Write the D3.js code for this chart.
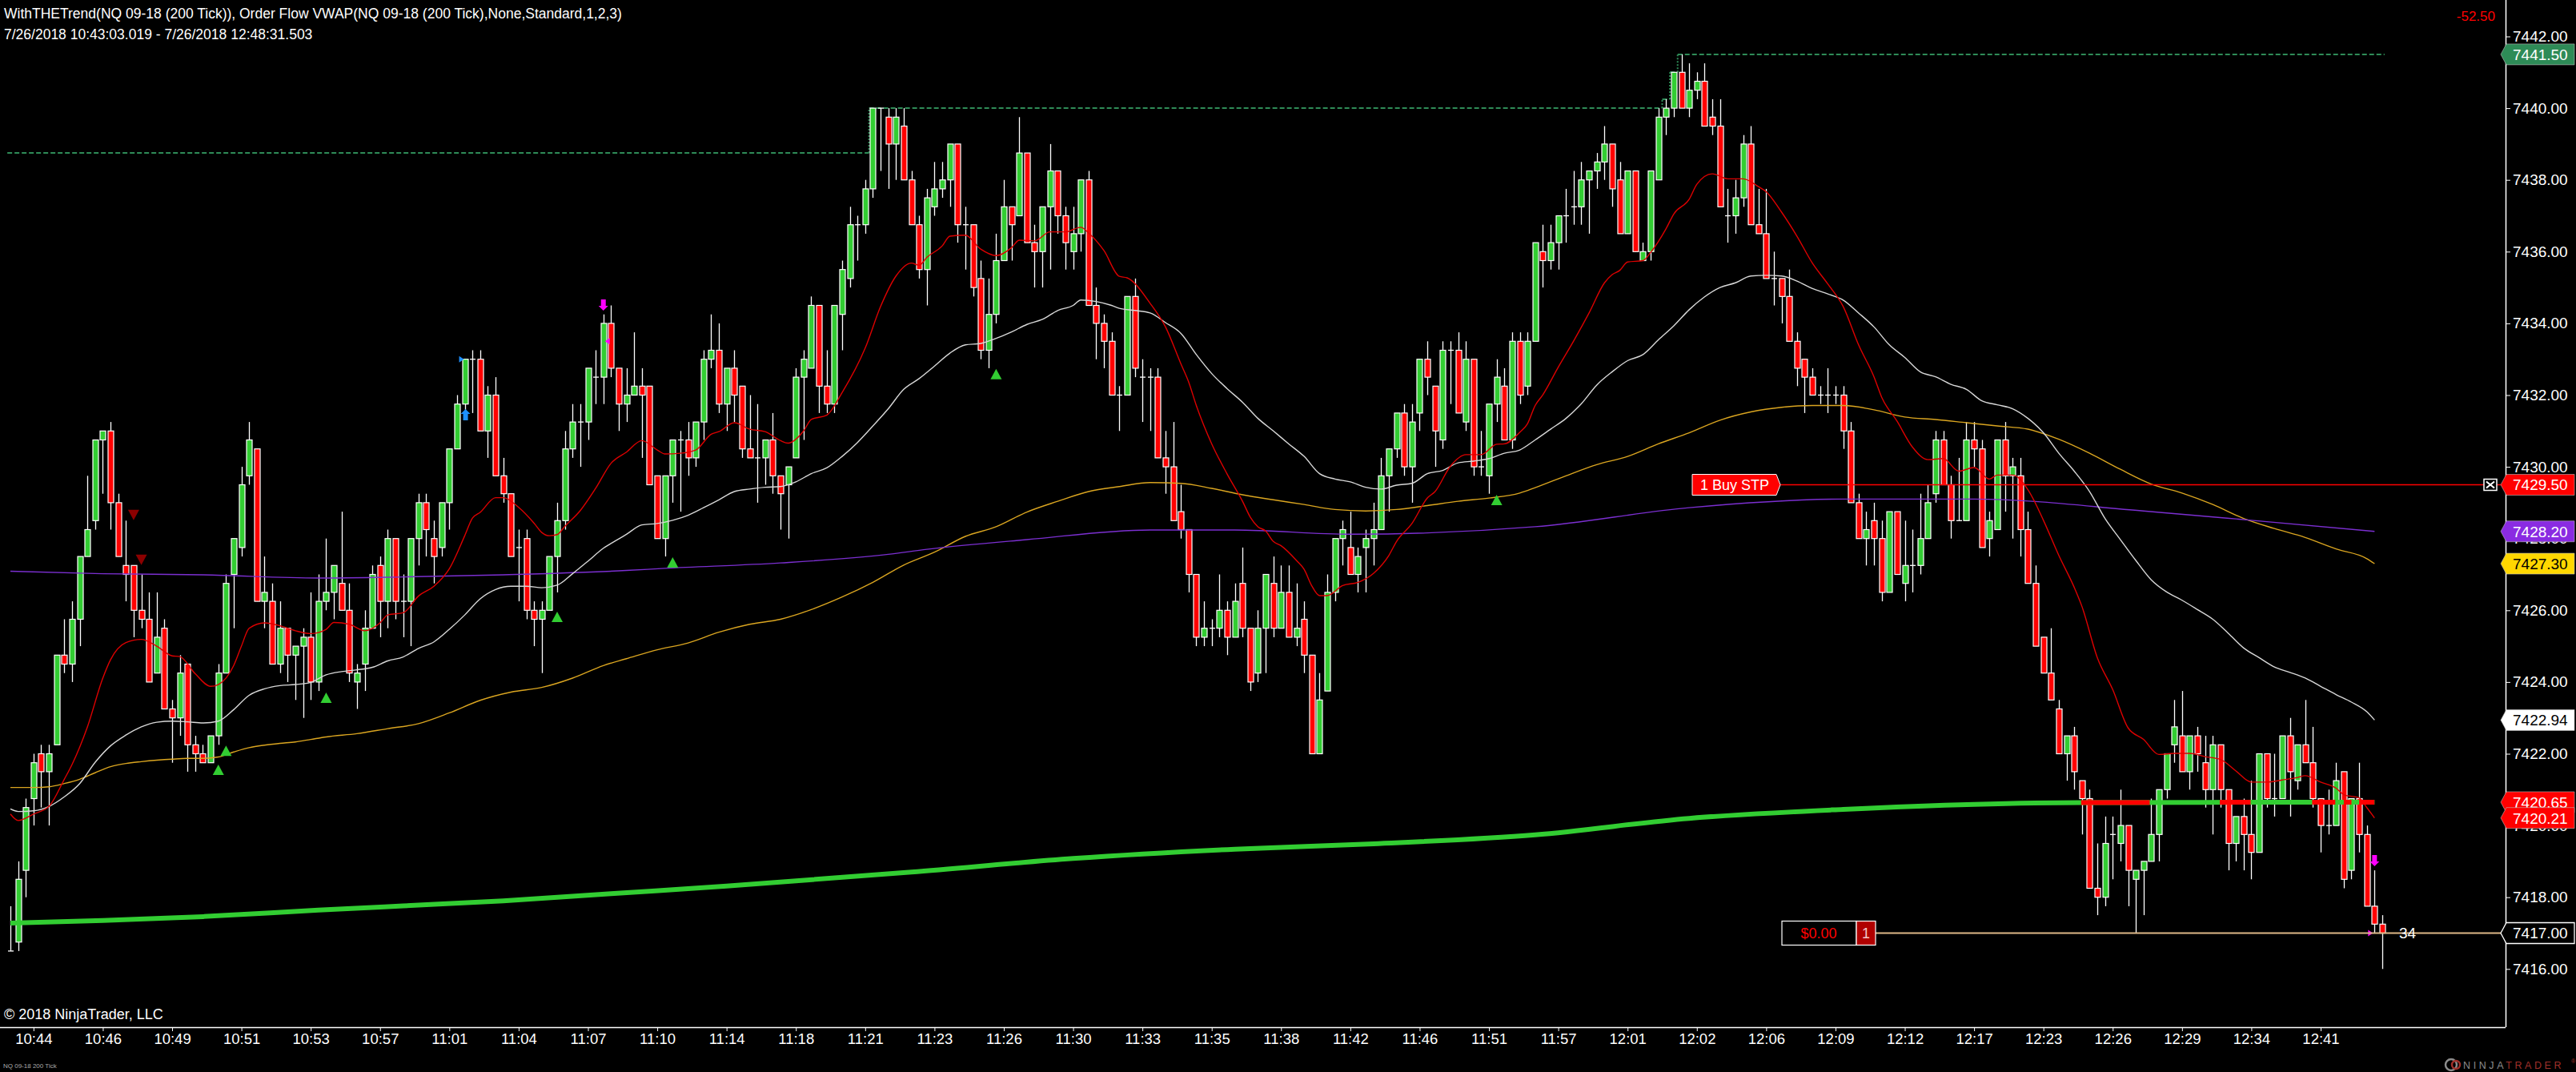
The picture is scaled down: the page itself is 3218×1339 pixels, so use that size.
<!DOCTYPE html>
<html>
<head>
<meta charset="utf-8">
<script src="https://cdn.jsdelivr.net/npm/d3@7"></script>
<style>
html, body { margin: 0; padding: 0; background: #000; overflow: hidden; }
svg { display: block; font-family: "Liberation Sans", Arial, sans-serif; }
</style>
</head>
<body>
<svg id="chart"></svg>
<script>
var width = 3218;
var height = 1339;
var plotRight = 3130;
var plotBottom = 1283;

// NQ 09-18, 200 tick bars: [open, high, low, close]
var candles = [
[7416.5,7417.75,7416.5,7416.5],[7416.75,7419,7416.5,7418.5],[7418.75,7420.75,7418,7420.5],[7420.75,7422,7420,7421.75],
[7422,7422.25,7420.5,7421.5],[7421.5,7422.25,7420,7422],[7422.25,7424.75,7422.25,7424.75],[7424.75,7425.75,7424.25,7424.5],
[7424.5,7426.25,7424,7425.75],[7425.75,7427.5,7425,7427.5],[7427.5,7429.75,7427.5,7428.25],[7428.5,7430.75,7428.25,7430.75],
[7430.75,7431,7429.25,7431],[7431,7431.25,7428.25,7429],[7429,7429.25,7427.5,7427.5],[7427.25,7428.5,7426.25,7427],
[7427.25,7427.25,7425.25,7426],[7426,7427,7425.5,7425.75],[7425.75,7426.5,7424,7424],[7424.25,7426.5,7424.25,7425.25],
[7425.5,7425.75,7423.25,7423.25],[7423.25,7423.5,7421.75,7423],[7423,7424.75,7422.5,7424.25],[7424.5,7424.5,7421.5,7422.25],
[7422.25,7422.5,7421.5,7422],[7422,7422.25,7421.75,7421.75],[7421.75,7422.5,7421.75,7422.5],[7422.5,7424.5,7422.25,7424.25],
[7424.25,7427,7424.25,7426.75],[7427,7428,7425.5,7428],[7427.75,7430,7427.5,7429.5],[7429.75,7431.25,7429.5,7430.75],
[7430.5,7430.5,7426.25,7426.25],[7426.25,7427.5,7425.5,7426.5],[7426.25,7426.75,7424.5,7424.5],[7424.5,7426.25,7424.25,7425.5],
[7425.5,7425.5,7424,7424.75],[7424.75,7425,7423.5,7425],[7425,7425.5,7423,7425.25],[7425.25,7426.5,7423.5,7424],
[7424,7427,7423.75,7426.25],[7426.25,7428,7426,7426.5],[7426.5,7427.25,7425.75,7427.25],[7426.75,7428.75,7426,7426],
[7426,7426.75,7424,7424.25],[7424,7424.5,7423.25,7424.25],[7424.5,7426,7423.75,7425.5],[7425.5,7427.25,7425.5,7427],
[7427.25,7427.5,7425.25,7426.25],[7426.25,7428.25,7425.5,7428],[7428,7428,7425.75,7426.25],[7426.25,7427,7425.25,7426.25],
[7426.25,7428,7425,7428],[7428,7429.25,7427.25,7429],[7429,7429.25,7427.5,7428.25],[7428,7428.5,7426.75,7427.5],
[7427.75,7429,7427.5,7429],[7429,7430.5,7428.25,7430.5],[7430.5,7432,7430.5,7431.75],[7431.75,7433,7431.5,7433],
[7433,7433.25,7431.5,7433],[7433,7433.25,7431,7431],[7431,7432.25,7430.25,7432],[7432,7432.5,7429.75,7429.75],
[7429.75,7430.25,7429,7429.25],[7429.25,7429.25,7427.5,7427.5],[7427.75,7428.25,7426.25,7427.75],[7428,7428.25,7425.75,7426],
[7426,7426.25,7425,7425.75],[7425.75,7426.25,7424.25,7426],[7426,7427.5,7426,7427.5],[7427.5,7429,7426.5,7428.5],
[7428.5,7431,7428.25,7430.5],[7430.5,7431.75,7430.25,7431.25],[7431.25,7431.75,7430,7431.25],[7431.25,7432.75,7430.75,7432.75],
[7432.5,7433.25,7431.75,7432.5],[7432.5,7434.25,7431.75,7434],[7434,7434.5,7432.5,7432.75],[7432.75,7432.75,7431,7431.75],
[7431.75,7432.75,7431.25,7432],[7432,7433.75,7432,7432.25],[7432.25,7432.75,7430.25,7432],[7432.25,7432.25,7429.5,7429.5],
[7429.75,7429.75,7428,7428],[7428,7429.75,7427.5,7429.75],[7429.75,7430.75,7429,7430.75],[7430.75,7431,7428.75,7430.75],
[7430.75,7431.25,7429.75,7430.25],[7430.25,7431.25,7430,7431.25],[7431.25,7433.25,7430.75,7433],[7433,7434.25,7432.75,7433.25],
[7433.25,7434,7431.5,7431.75],[7431.75,7432.75,7431,7432.75],[7432.75,7433.25,7431.25,7432],[7432.25,7432.25,7430.25,7430.5],
[7430.5,7432,7430.25,7430.25],[7430.25,7431.75,7429,7430.25],[7430.25,7430.75,7429.5,7430.75],[7430.75,7431.5,7429.25,7429.75],
[7429.75,7429.75,7428.25,7429.25],[7429.5,7430,7428,7430],[7430.25,7432.75,7430.25,7432.5],[7432.5,7433.25,7430.75,7433],
[7432.75,7434.75,7432.75,7434.5],[7434.5,7434.5,7431.5,7432.25],[7432.25,7433.25,7431.5,7431.75],[7431.75,7434.5,7431.5,7434.5],
[7434.25,7435.75,7433.25,7435.5],[7435.25,7437.25,7435,7436.75],[7436.75,7437,7435.75,7436.75],[7436.75,7438,7436.5,7437.75],
[7437.75,7440,7437.5,7440],[7440,7440,7438.25,7440],[7439.75,7440,7437.75,7439],[7439,7440,7438,7439.75],
[7439.5,7440,7438,7438],[7438,7438.25,7436.75,7436.75],[7436.75,7437,7435.25,7435.5],[7435.5,7437.75,7434.5,7437.5],
[7437.25,7438.5,7437,7437.75],[7437.75,7438.5,7437.5,7438],[7438,7439,7437.25,7439],[7439,7439,7436.25,7436.75],
[7436.75,7437.25,7435.5,7436.75],[7436.75,7436.75,7434.75,7435],[7435.25,7435.75,7433,7433.25],[7433.25,7435.25,7432.75,7434.25],
[7434.25,7436.5,7434,7435.75],[7435.75,7438,7435.75,7437.25],[7437.25,7437.25,7435.75,7436.75],[7437,7439.75,7437,7438.75],
[7438.75,7438.75,7436.25,7436.25],[7436.25,7436.75,7435,7436],[7436,7437.25,7435,7437.25],[7437.25,7439,7435.5,7438.25],
[7438.25,7438.25,7436.5,7437],[7437,7437.25,7435.5,7436.25],[7436,7437.25,7435.5,7436.5],[7436.5,7438,7436,7438],
[7438,7438.25,7434.5,7434.5],[7434.5,7435,7433,7434],[7434,7434.25,7432.75,7433.5],[7433.5,7433.75,7432,7432],
[7432,7432.25,7431,7432],[7432,7434.75,7432,7434.75],[7434.75,7435.25,7432.5,7432.75],[7432.5,7433,7431.25,7432.5],
[7432.5,7432.75,7431,7432.5],[7432.5,7432.75,7430.25,7430.25],[7430.25,7431,7429.25,7430],[7430,7431.25,7428.5,7428.5],
[7428.75,7429.5,7428,7428.25],[7428.25,7428.25,7426.5,7427],[7427,7427,7425,7425.25],[7425.25,7426.25,7425,7425.5],
[7425.5,7425.75,7425,7425.5],[7425.5,7427,7425.25,7426],[7426,7426.25,7424.75,7425.25],[7425.25,7426.75,7425.25,7426.25],
[7426.75,7427.75,7425.25,7425.5],[7425.5,7425.5,7423.75,7424],[7424.25,7426,7424,7425.5],[7425.5,7427,7424.25,7427],
[7426.75,7427.5,7425.25,7425.5],[7425.5,7427.25,7425.5,7426.5],[7426.5,7427.25,7425.25,7425.25],[7425.25,7426.75,7425,7425.5],
[7425.75,7426.25,7424.25,7424.75],[7424.75,7424.75,7422,7422],[7422,7424.25,7422,7423.5],[7423.75,7427,7423.75,7426.5],
[7426.5,7428,7426.25,7428],[7428,7428.5,7427.25,7428.25],[7427.75,7428.75,7427,7427],[7427,7427.75,7426.5,7427.5],
[7427.75,7428.25,7426.5,7428],[7428,7429,7427.25,7428.25],[7428.25,7430.25,7428.25,7429.75],[7429.75,7430.5,7428.75,7430.5],
[7430.5,7431.5,7430.25,7431.5],[7431.5,7431.75,7429.75,7430],[7430,7431.75,7429,7431.25],[7431.5,7433,7431,7433],
[7433,7433.5,7432,7432.5],[7432.25,7432.25,7430,7431],[7430.75,7433.5,7430.5,7433.25],[7433.25,7433.5,7431.75,7433.25],
[7433.25,7433.75,7431.5,7431.5],[7431.25,7433.5,7431,7433],[7433,7433,7429.75,7430],[7430,7431,7429.75,7430],
[7429.75,7431.75,7429.25,7431.75],[7431.75,7433,7431.25,7432.5],[7432.25,7432.75,7430.75,7430.75],[7430.75,7433.75,7430.5,7433.5],
[7433.5,7433.75,7431.75,7432],[7432.25,7433.75,7432,7433.5],[7433.5,7436.25,7433.5,7436.25],[7436,7436.75,7435,7435.75],
[7435.75,7436.75,7435.5,7436.25],[7436.25,7437,7435.5,7437],[7437,7437.75,7436.25,7437],[7437.25,7438.25,7436.75,7437.25],
[7437.25,7438.5,7436.75,7438],[7438,7438.25,7436.5,7438.25],[7438.25,7438.75,7437.75,7438.5],[7438.5,7439.5,7438,7439],
[7439,7439,7437.25,7437.75],[7438,7438.5,7436.5,7436.5],[7436.5,7438.25,7436.5,7438.25],[7438.25,7438.25,7436,7436],
[7435.75,7436.25,7435.75,7436],[7436,7438.25,7435.75,7438.25],[7438,7440,7438,7439.75],[7439.75,7440.25,7439.25,7440],
[7440,7441,7439.75,7441],[7441,7441.5,7440,7440],[7440,7441.25,7439.75,7440.5],[7440.5,7441,7440.25,7440.75],
[7440.75,7441.25,7439.5,7439.5],[7439.75,7440.25,7439.25,7439.5],[7439.5,7440.25,7437.25,7437.25],[7437,7437.75,7436.25,7437],
[7437,7438,7436.5,7437.5],[7437.5,7439.25,7437.25,7439],[7439,7439.5,7436.75,7436.75],[7436.75,7437.75,7436.5,7436.5],
[7436.5,7437.75,7435.25,7435.25],[7435.25,7436,7434.5,7435.25],[7435.25,7435.25,7434,7434.75],[7434.75,7435.5,7433.5,7433.5],
[7433.5,7433.75,7432.25,7432.75],[7433,7433,7431.5,7432.5],[7432.5,7432.75,7432,7432],[7432,7432.25,7431.75,7432],
[7432,7432.75,7431.5,7432],[7432,7432.25,7431.75,7432],[7432,7432.25,7430.5,7431],[7431,7431.25,7429,7429],
[7429,7429.25,7428,7428],[7428,7428.75,7427.25,7428.25],[7428.5,7429,7427.25,7428],[7428,7428.5,7426.25,7426.5],
[7426.5,7428.75,7426.5,7428.75],[7428.75,7428.75,7427,7427],[7426.75,7428.5,7426.25,7427.25],[7427.25,7428.25,7426.5,7427.25],
[7427.25,7429.25,7427,7428],[7428,7429.5,7428,7429],[7429.25,7431,7429,7430.75],[7430.75,7431,7429.5,7429.5],
[7429.5,7429.75,7428,7428.5],[7428.5,7430.25,7428.5,7428.5],[7428.5,7431.25,7428.5,7430.75],[7430.75,7431.25,7430,7430.5],
[7430.5,7430.75,7427.75,7427.75],[7428,7428.75,7427.5,7428.5],[7428.25,7430.75,7428.25,7430.75],[7430.75,7431.25,7428.75,7429.75],
[7429.75,7430.25,7428,7430],[7429.75,7430.25,7427.5,7428.25],[7428.25,7428.75,7426.75,7426.75],[7426.75,7427.25,7425,7425],
[7425.25,7425.25,7424.25,7424.25],[7424.25,7425.5,7423.5,7423.5],[7423.25,7423.5,7422,7422],[7422,7422.5,7421.25,7422.5],
[7422.5,7422.75,7421,7421.5],[7421.25,7421.25,7419.75,7420.75],[7420.75,7421,7418.25,7418.25],[7418.25,7419.5,7417.5,7418],
[7418,7420.25,7417.75,7419.5],[7419.75,7420.25,7418.5,7419.75],[7419.5,7421,7419,7420],[7420,7420,7417.75,7418.75],
[7418.5,7418.75,7417,7418.75],[7418.75,7419,7417.5,7419],[7419,7420.75,7419,7419.75],[7419.75,7421,7419,7421],
[7421,7422,7420.75,7422],[7422.25,7423.5,7421.75,7422.75],[7422.5,7423.75,7421.5,7421.5],[7421.5,7422.5,7421,7422.5],
[7422.5,7422.75,7421.5,7422],[7421.75,7422.5,7420.5,7421],[7421,7422.5,7419.75,7422.25],[7422.25,7422.25,7420.5,7421],
[7421,7421,7418.75,7419.5],[7419.5,7420.25,7419,7420.25],[7420.25,7420.75,7418.75,7419.75],[7419.75,7421.25,7418.5,7419.25],
[7419.25,7422,7419.25,7422],[7422,7422,7420.5,7420.75],[7420.75,7422,7420.25,7420.75],[7420.75,7422.5,7420.75,7422.5],
[7422.5,7423,7420.25,7421.5],[7421.25,7422.25,7421,7422.25],[7422.25,7423.5,7421.75,7421.75],[7421.75,7422.75,7420.5,7420.75],
[7420.75,7420.75,7419.25,7420],[7420,7421,7419.75,7420],[7420,7421.75,7420,7421.25],[7421.5,7421.5,7418.25,7418.5],
[7418.75,7420.75,7418.5,7420.75],[7420.75,7421.75,7419.25,7419.75],[7419.75,7420,7417.75,7417.75],[7417.75,7418.75,7417,7417.25],
[7417.25,7417.5,7416,7417]
];

var timeLabels = ["10:44","10:46","10:49","10:51","10:53","10:57","11:01","11:04","11:07","11:10","11:14","11:18",
  "11:21","11:23","11:26","11:30","11:33","11:35","11:38","11:42","11:46","11:51","11:57","12:01","12:02","12:06",
  "12:09","12:12","12:17","12:23","12:26","12:29","12:34","12:41"];
var priceTicks = [7416,7418,7420,7422,7424,7426,7428,7430,7432,7434,7436,7438,7440,7442];

// indicator plots, [bar, value]
var fastAvg = [[0,7420.32],[1,7420.14],[3,7420.32],[5,7420.53],[7,7421.29],[8,7421.7],[10,7422.75],[12,7424.11],[13,7424.62],
  [15,7425.1],[17,7425.19],[19,7425.0],[21,7424.73],[22,7424.71],[24,7424.23],[26,7423.88],[27,7423.93],[29,7424.46],[30,7425.0],
  [31,7425.5],[33,7425.65],[35,7425.57],[37,7425.43],[39,7425.35],[41,7425.47],[42,7425.66],[44,7425.61],[46,7425.43],
  [48,7425.65],[49,7425.87],[51,7425.93],[53,7426.4],[55,7426.67],[57,7427.16],[59,7428.08],[60,7428.57],[61,7428.73],
  [63,7429.14],[64,7429.14],[66,7428.87],[68,7428.43],[69,7428.17],[70,7428.08],[71,7428.11],[72,7428.34],[74,7428.78],
  [76,7429.4],[78,7430.1],[80,7430.41],[82,7430.73],[84,7430.47],[85,7430.36],[87,7430.38],[89,7430.47],[91,7430.91],
  [92,7430.98],[94,7431.23],[96,7431.05],[98,7430.98],[100,7430.73],[101,7430.66],[103,7431.0],[104,7431.32],[106,7431.44],
  [108,7432.07],[111,7433.31],[113,7434.47],[115,7435.32],[117,7435.68],[118,7435.62],[119,7435.84],[121,7436.16],
  [122,7436.43],[124,7436.46],[126,7436.07],[128,7435.89],[130,7436.11],[131,7436.32],[133,7436.3],[135,7436.55],
  [137,7436.55],[139,7436.68],[140,7436.52],[142,7436.03],[144,7435.31],[145,7435.27],[148,7434.56],[150,7433.9],
  [152,7432.87],[153,7432.37],[154,7431.71],[156,7430.64],[158,7429.8],[160,7429.04],[161,7428.6],[162,7428.33],
  [163,7428.21],[164,7427.92],[165,7427.8],[167,7427.39],[168,7427.14],[169,7426.68],[170,7426.41],[171,7426.41],
  [173,7426.69],[175,7426.78],[177,7427.03],[179,7427.53],[180,7427.92],[182,7428.42],[184,7429.13],[185,7429.31],
  [187,7430.02],[189,7430.34],[191,7430.34],[193,7430.63],[194,7430.64],[196,7430.96],[197,7431.2],[198,7431.71],
  [199,7432.01],[201,7432.78],[203,7433.51],[205,7434.29],[207,7435.13],[208,7435.36],[209,7435.48],[210,7435.71],
  [212,7435.75],[213,7435.98],[215,7436.64],[216,7437.05],[218,7437.46],[219,7437.88],[221,7438.17],[223,7438.03],
  [225,7438.03],[227,7437.81],[228,7437.67],[230,7437.1],[232,7436.43],[234,7435.68],[236,7435.1],[238,7434.47],
  [240,7433.4],[242,7432.51],[243,7431.94],[245,7431.27],[247,7430.55],[249,7430.2],[251,7430.23],[253,7429.88],
  [255,7429.98],[257,7429.66],[258,7429.77],[260,7429.77],[262,7429.36],[264,7428.51],[266,7427.53],[268,7426.64],
  [269,7426.11],[271,7424.68],[273,7423.79],[275,7422.72],[277,7422.4],[279,7421.98],[281,7422.01],[283,7422.01],
  [285,7421.92],[287,7421.84],[289,7421.52],[291,7421.21],[293,7421.21],[295,7421.27],[297,7421.34],[298,7421.39],
  [300,7421.21],[302,7421.04],[303,7420.86],[305,7420.77],[306,7420.5],[307,7420.21]];

var slowAvg = [[0,7420.46],[1,7420.39],[3,7420.41],[5,7420.53],[7,7420.8],[9,7421.17],[11,7421.76],[13,7422.22],[15,7422.52],
  [17,7422.75],[19,7422.88],[21,7422.91],[23,7422.89],[25,7422.86],[27,7422.91],[29,7423.23],[31,7423.63],[33,7423.81],
  [35,7423.9],[37,7423.93],[39,7423.99],[41,7424.2],[43,7424.29],[45,7424.34],[47,7424.41],[49,7424.59],[51,7424.7],
  [53,7424.94],[55,7425.12],[57,7425.47],[59,7425.87],[61,7426.32],[63,7426.58],[65,7426.67],[67,7426.67],[69,7426.63],
  [71,7426.7],[73,7427.02],[75,7427.37],[77,7427.73],[79,7427.99],[80,7428.12],[82,7428.38],[84,7428.42],[86,7428.51],
  [88,7428.65],[90,7428.86],[92,7429.08],[94,7429.31],[96,7429.38],[98,7429.43],[100,7429.45],[102,7429.58],[104,7429.81],
  [106,7429.97],[108,7430.29],[110,7430.68],[112,7431.14],[114,7431.62],[116,7432.16],[118,7432.46],[120,7432.81],
  [122,7433.17],[124,7433.4],[126,7433.44],[128,7433.58],[130,7433.76],[132,7433.97],[134,7434.11],[136,7434.36],
  [138,7434.5],[139,7434.65],[141,7434.61],[143,7434.5],[144,7434.42],[146,7434.36],[148,7434.29],[150,7434.02],
  [152,7433.72],[154,7433.13],[156,7432.6],[158,7432.18],[160,7431.8],[162,7431.35],[164,7431.0],[166,7430.64],
  [168,7430.29],[170,7429.81],[172,7429.66],[174,7429.58],[176,7429.43],[178,7429.38],[180,7429.49],[182,7429.54],
  [184,7429.81],[186,7429.9],[188,7430.11],[190,7430.16],[192,7430.23],[194,7430.38],[196,7430.47],[198,7430.75],
  [200,7431.05],[202,7431.35],[204,7431.76],[206,7432.28],[208,7432.65],[210,7432.96],[212,7433.13],[214,7433.54],
  [216,7433.93],[218,7434.38],[220,7434.74],[222,7435.0],[224,7435.13],[226,7435.32],[228,7435.34],[230,7435.32],
  [232,7435.18],[234,7434.97],[236,7434.82],[238,7434.65],[240,7434.29],[242,7433.9],[244,7433.4],[246,7433.05],
  [248,7432.65],[250,7432.51],[252,7432.3],[254,7432.16],[256,7431.84],[258,7431.73],[260,7431.62],[262,7431.35],
  [264,7430.95],[266,7430.38],[268,7429.88],[270,7429.31],[272,7428.56],[274,7427.97],[276,7427.39],[278,7426.85],
  [280,7426.51],[282,7426.28],[284,7426.02],[286,7425.75],[288,7425.36],[290,7424.95],[292,7424.68],[294,7424.42],
  [296,7424.27],[298,7424.11],[300,7423.88],[302,7423.65],[304,7423.44],[306,7423.17],[307,7422.94]];

var goldAvg = [[0,7421.06],[3,7421.06],[5,7421.08],[7,7421.17],[9,7421.29],[11,7421.47],[13,7421.64],[15,7421.73],[17,7421.78],
  [19,7421.82],[21,7421.85],[23,7421.87],[25,7421.87],[27,7421.91],[29,7422.05],[31,7422.17],[33,7422.24],[35,7422.29],
  [37,7422.33],[39,7422.4],[41,7422.47],[45,7422.56],[49,7422.7],[53,7422.84],[57,7423.14],[61,7423.49],[65,7423.72],
  [69,7423.85],[73,7424.11],[77,7424.46],[80,7424.65],[84,7424.9],[88,7425.09],[92,7425.39],[96,7425.61],[100,7425.75],
  [104,7426.02],[108,7426.37],[112,7426.78],[116,7427.26],[120,7427.62],[124,7428.06],[128,7428.33],[132,7428.74],
  [136,7429.04],[140,7429.31],[144,7429.45],[148,7429.56],[152,7429.54],[156,7429.4],[160,7429.22],[164,7429.08],
  [168,7428.95],[172,7428.81],[176,7428.77],[180,7428.81],[184,7428.92],[188,7429.04],[192,7429.13],[196,7429.27],
  [198,7429.42],[202,7429.75],[206,7430.06],[210,7430.29],[214,7430.64],[218,7430.95],[222,7431.3],[226,7431.53],
  [230,7431.66],[234,7431.71],[238,7431.71],[242,7431.59],[246,7431.39],[250,7431.32],[254,7431.23],[258,7431.14],
  [262,7431.05],[266,7430.77],[270,7430.38],[274,7429.93],[278,7429.52],[282,7429.27],[286,7428.95],[290,7428.56],
  [294,7428.28],[298,7428.03],[302,7427.71],[306,7427.44],[307,7427.3]];

var purpleAvg = [[0,7427.09],[12,7427.02],[25,7426.99],[40,7426.9],[51,7426.93],[64,7426.99],[80,7427.11],[85,7427.17],
  [100,7427.32],[114,7427.56],[119,7427.7],[132,7427.97],[148,7428.24],[159,7428.24],[174,7428.12],[198,7428.33],
  [218,7428.86],[238,7429.1],[255,7429.1],[277,7428.77],[291,7428.51],[307,7428.2]];

var vwap = [[0,7417.28],[12,7417.35],[25,7417.46],[40,7417.64],[51,7417.76],[64,7417.9],[78,7418.1],[93,7418.31],
  [117,7418.7],[138,7419.08],[159,7419.34],[177,7419.49],[198,7419.74],[218,7420.2],[238,7420.45],[255,7420.59],
  [269,7420.64],[307,7420.65]];
// bar ranges where the VWAP plot turns red
var vwapRed = [[268.9,277.8],[286.9,290.9],[298.9,301.9],[303,304],[305,307]];

var startHigh = 7438.75;
var upSignals = [[27,7421.7],[28,7422.23],[41,7423.71],[71,7425.96],[86,7427.48],[128,7432.73],[193,7429.22]];
var downSignals = [[16,7428.8],[17,7427.55]];

// price markers on the axis: value, fill, text colour
var markers = [
  [7441.50, "#2e8b57", "#ffffff"],
  [7429.50, "#ff0000", "#ffffff"],
  [7428.20, "#8a2be2", "#ffffff"],
  [7427.30, "#ffd700", "#000000"],
  [7422.94, "#ffffff", "#000000"],
  [7420.65, "#ff0000", "#ffffff"],
  [7420.21, "#ff0000", "#ffffff"],
  [7417.00, "#000000", "#ffffff"]
];
var stopPrice = 7429.50;
var positionPrice = 7417.00;

var x = d3.scaleLinear().domain([0, 308]).range([13, 13 + 308 * 9.62]);
var y = d3.scaleLinear().domain([7416, 7442]).range([1210.3, 45.5]);

var svg = d3.select("#chart").attr("width", width).attr("height", height);
svg.append("rect").attr("width", width).attr("height", height).attr("fill", "#000");

// axes
var xAxis = d3.axisBottom(x)
  .tickValues(timeLabels.map(function(d, i) { return 3 + 9 * i; }))
  .tickFormat(function(d, i) { return timeLabels[i]; })
  .tickSize(5)
  .tickSizeOuter(0);
var gx = svg.append("g").attr("transform", "translate(0," + plotBottom + ")").call(xAxis);
gx.select(".domain").remove();
gx.selectAll("line").attr("stroke", "#fff");
gx.selectAll("text").attr("fill", "#fff").style("font-size", "18.5px").attr("font-family", "Liberation Sans, Arial");

var yAxis = d3.axisRight(y)
  .tickValues(priceTicks)
  .tickFormat(d3.format(".2f"))
  .tickSize(6)
  .tickPadding(3);
var gy = svg.append("g").attr("transform", "translate(" + plotRight + ",0)").call(yAxis);
gy.select(".domain").remove();
gy.selectAll("line").attr("stroke", "#fff");
gy.selectAll("text").attr("fill", "#fff").style("font-size", "19px").attr("font-family", "Liberation Sans, Arial");

svg.append("line").attr("x1", 0).attr("x2", plotRight).attr("y1", plotBottom + 0.5).attr("y2", plotBottom + 0.5)
  .attr("stroke", "#fff").attr("stroke-width", 1.5);
svg.append("line").attr("x1", plotRight + 0.5).attr("x2", plotRight + 0.5).attr("y1", 0).attr("y2", plotBottom)
  .attr("stroke", "#fff").attr("stroke-width", 1.5);

var plot = svg.append("g");

// running session high (dashed) built from the bar highs
var level = startHigh, steps = [[-0.4, level]];
candles.forEach(function(c, i) {
  if (c[1] > level) { steps.push([i - 0.5, level]); level = c[1]; steps.push([i - 0.5, level]); }
});
steps.push([308.3, level]);
for (var s = 0; s < steps.length - 1; s++) {
  var a = steps[s], b = steps[s + 1];
  plot.append("line")
    .attr("x1", x(a[0])).attr("x2", x(b[0])).attr("y1", y(a[1])).attr("y2", y(b[1]))
    .attr("stroke", "#2e8b57").attr("stroke-width", 2)
    .attr("stroke-dasharray", a[1] === b[1] ? "6,3" : "2,2");
}

// candles
var bodyW = 7;
var bars = plot.selectAll("g.bar").data(candles).enter().append("g").attr("class", "bar");
bars.append("line")
  .attr("x1", function(d, i) { return Math.round(x(i)) + 0.5; })
  .attr("x2", function(d, i) { return Math.round(x(i)) + 0.5; })
  .attr("y1", function(d) { return y(d[1]); })
  .attr("y2", function(d) { return y(d[2]); })
  .attr("stroke", "#fff").attr("stroke-width", 1.3);
bars.filter(function(d) { return d[0] !== d[3]; }).append("rect")
  .attr("x", function(d) { return Math.round(x(candles.indexOf(d))) + 0.5 - bodyW / 2; })
  .attr("width", bodyW)
  .attr("y", function(d) { return y(Math.max(d[0], d[3])); })
  .attr("height", function(d) { return Math.abs(y(d[0]) - y(d[3])); })
  .attr("fill", function(d) { return d[3] > d[0] ? "#32cd32" : "#ff0000"; })
  .attr("stroke", "#fff").attr("stroke-width", 1.2);
bars.filter(function(d) { return d[0] === d[3]; }).append("line")
  .attr("x1", function(d) { return Math.round(x(candles.indexOf(d))) + 0.5 - bodyW / 2; })
  .attr("x2", function(d) { return Math.round(x(candles.indexOf(d))) + 0.5 + bodyW / 2; })
  .attr("y1", function(d) { return y(d[0]); })
  .attr("y2", function(d) { return y(d[0]); })
  .attr("stroke", "#fff").attr("stroke-width", 1.3);

// indicator lines
var line = d3.line().x(function(d) { return x(d[0]); }).y(function(d) { return y(d[1]); }).curve(d3.curveMonotoneX);
plot.append("path").datum(goldAvg).attr("d", line).attr("fill", "none").attr("stroke", "#daa520").attr("stroke-width", 1.4);
plot.append("path").datum(purpleAvg).attr("d", line).attr("fill", "none").attr("stroke", "#7b2fd0").attr("stroke-width", 1.4);
plot.append("path").datum(slowAvg).attr("d", line).attr("fill", "none").attr("stroke", "#d8d8d8").attr("stroke-width", 1.4);
plot.append("path").datum(fastAvg).attr("d", line).attr("fill", "none").attr("stroke", "#dd0000").attr("stroke-width", 1.4);

plot.append("path").datum(vwap).attr("d", line).attr("fill", "none").attr("stroke", "#32cd32").attr("stroke-width", 6);
var clip = svg.append("defs").append("clipPath").attr("id", "vwapRedClip");
vwapRed.forEach(function(r) {
  clip.append("rect").attr("x", x(r[0])).attr("width", x(r[1]) - x(r[0])).attr("y", 0).attr("height", height);
});
plot.append("path").datum(vwap).attr("d", line).attr("fill", "none").attr("stroke", "#ff0000").attr("stroke-width", 6)
  .attr("clip-path", "url(#vwapRedClip)");

// signals
var tri = 7;
plot.selectAll("path.up").data(upSignals).enter().append("path")
  .attr("d", function(d) { var cx = x(d[0]), cy = y(d[1]); return "M" + cx + "," + cy + "L" + (cx + tri) + "," + (cy + 13) + "L" + (cx - tri) + "," + (cy + 13) + "Z"; })
  .attr("fill", "#32cd32");
plot.selectAll("path.down").data(downSignals).enter().append("path")
  .attr("d", function(d) { var cx = x(d[0]), cy = y(d[1]); return "M" + (cx - tri) + "," + cy + "L" + (cx + tri) + "," + cy + "L" + cx + "," + (cy + 13) + "Z"; })
  .attr("fill", "#8b0000");

function arrow(cx, top, up, color) {
  var p = up
    ? [[cx, top], [cx + 6, top + 6], [cx + 3, top + 6], [cx + 3, top + 14], [cx - 3, top + 14], [cx - 3, top + 6], [cx - 6, top + 6]]
    : [[cx - 3, top], [cx + 3, top], [cx + 3, top + 8], [cx + 6, top + 8], [cx, top + 14], [cx - 6, top + 8], [cx - 3, top + 8]];
  plot.append("path").attr("d", "M" + p.join("L") + "Z").attr("fill", color);
}
function flag(tipX, cy, right, color) {
  var d = right ? "M" + (tipX - 6) + "," + (cy - 4) + "L" + tipX + "," + cy + "L" + (tipX - 6) + "," + (cy + 4) + "Z"
                : "M" + (tipX + 6) + "," + (cy - 4) + "L" + tipX + "," + cy + "L" + (tipX + 6) + "," + (cy + 4) + "Z";
  plot.append("path").attr("d", d).attr("fill", color);
}
arrow(x(59) + 1, 511, true, "#1e90ff");
flag(x(59) - 1, y(7433), true, "#1e90ff");
arrow(x(77), 374, false, "#ff00ff");
flag(x(77) + 2, y(7433.5), false, "#ff00ff");
arrow(x(307), 1068, false, "#ff00ff");
flag(x(307) - 2, y(7417), true, "#ff00ff");

// working stop order
var ys = y(stopPrice);
plot.append("line").attr("x1", 2224).attr("x2", 3124).attr("y1", ys).attr("y2", ys).attr("stroke", "#ff0000").attr("stroke-width", 1.6);
plot.append("path").attr("d", "M2114," + (ys - 13) + "L2219," + (ys - 13) + "L2224," + ys + "L2219," + (ys + 13) + "L2114," + (ys + 13) + "Z")
  .attr("fill", "#ff0000").attr("stroke", "#fff").attr("stroke-width", 1);
plot.append("text").attr("x", 2167).attr("y", ys).attr("dy", "0.36em").attr("text-anchor", "middle")
  .attr("fill", "#fff").style("font-size", "18px").text("1 Buy STP");
plot.append("rect").attr("x", 3103).attr("y", ys - 7).attr("width", 16).attr("height", 14)
  .attr("fill", "#000").attr("stroke", "#fff").attr("stroke-width", 1.5);
plot.append("path").attr("d", "M3106," + (ys - 4) + "L3116," + (ys + 4) + "M3116," + (ys - 4) + "L3106," + (ys + 4))
  .attr("stroke", "#fff").attr("stroke-width", 2.2);

// open position line
var yp = y(positionPrice);
plot.append("line").attr("x1", 2343).attr("x2", 3124).attr("y1", yp).attr("y2", yp).attr("stroke", "#deb887").attr("stroke-width", 2);
plot.append("rect").attr("x", 2226).attr("y", yp - 15).attr("width", 93).attr("height", 30)
  .attr("fill", "#000").attr("stroke", "#fff").attr("stroke-width", 1.2);
plot.append("text").attr("x", 2272).attr("y", yp).attr("dy", "0.36em").attr("text-anchor", "middle")
  .attr("fill", "#ff0000").style("font-size", "18px").text("$0.00");
plot.append("rect").attr("x", 2319).attr("y", yp - 15).attr("width", 24).attr("height", 30)
  .attr("fill", "#b00000").attr("stroke", "#fff").attr("stroke-width", 1.2);
plot.append("text").attr("x", 2331).attr("y", yp).attr("dy", "0.36em").attr("text-anchor", "middle")
  .attr("fill", "#f2c8c8").style("font-size", "18px").text("1");
plot.append("text").attr("x", 2997).attr("y", yp).attr("dy", "0.36em")
  .attr("fill", "#fff").style("font-size", "19px").text("34");

// axis price markers
var mk = svg.selectAll("g.marker").data(markers).enter().append("g").attr("class", "marker")
  .attr("transform", function(d) { return "translate(0," + y(d[0]) + ")"; });
mk.append("path").attr("d", "M3124,0L3131,-13L3216,-13L3216,13L3131,13Z")
  .attr("fill", function(d) { return d[1]; })
  .attr("stroke", function(d) { return d[1] === "#000000" ? "#fff" : "#bbb"; })
  .attr("stroke-width", function(d) { return d[1] === "#000000" ? 1.3 : 0.6; });
mk.append("text").attr("x", 3139).attr("dy", "0.36em")
  .attr("fill", function(d) { return d[2]; }).style("font-size", "19px")
  .text(function(d) { return d3.format(".2f")(d[0]); });

// texts
svg.append("text").attr("x", 5).attr("y", 23).attr("fill", "#fff").style("font-size", "17.5px")
  .text("WithTHETrend(NQ 09-18 (200 Tick)), Order Flow VWAP(NQ 09-18 (200 Tick),None,Standard,1,2,3)");
svg.append("text").attr("x", 5).attr("y", 49).attr("fill", "#fff").style("font-size", "17.5px")
  .text("7/26/2018 10:43:03.019 - 7/26/2018 12:48:31.503");
svg.append("text").attr("x", 3117).attr("y", 26).attr("text-anchor", "end").attr("fill", "#ff0000")
  .style("font-size", "17px").text("-52.50");
svg.append("text").attr("x", 5).attr("y", 1273).attr("fill", "#fff").style("font-size", "18px")
  .text("\u00a9 2018 NinjaTrader, LLC");
svg.append("text").attr("x", 4).attr("y", 1334).attr("fill", "#aaa").style("font-size", "8px")
  .text("NQ 09-18 200 Tick");

// NinjaTrader logo
svg.append("circle").attr("cx", 3062).attr("cy", 1330).attr("r", 7).attr("fill", "none").attr("stroke", "#8c8c8c").attr("stroke-width", 2.5);
svg.append("circle").attr("cx", 3068).attr("cy", 1330).attr("r", 5).attr("fill", "none").attr("stroke", "#a0302a").attr("stroke-width", 2.5);
var logo = svg.append("text").attr("x", 3077).attr("y", 1335).style("font-size", "12.5px").style("letter-spacing", "3.6px");
logo.append("tspan").attr("fill", "#8c8c8c").text("NINJA");
logo.append("tspan").attr("fill", "#a0302a").text("TRADER");
svg.append("text").attr("x", 3212).attr("y", 1328).attr("fill", "#a0302a").style("font-size", "7px").text("\u00ae");
</script>
</body>
</html>
